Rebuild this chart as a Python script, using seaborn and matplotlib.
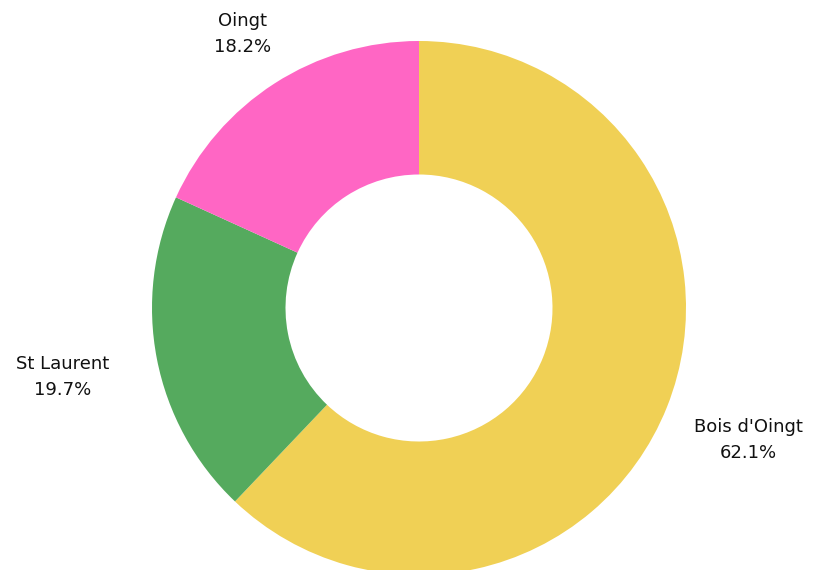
import numpy as np
import matplotlib
matplotlib.use("Agg")
import matplotlib.pyplot as plt
import seaborn as sns

# slice data (clockwise from 12 o'clock)
villages = ["Bois d'Oingt", "St Laurent", "Oingt"]
shares = [62.1, 19.7, 18.2]
colors = ["#F0D055", "#55AA5E", "#FF66C4"]
label_r = [1.33, 1.36, 1.22]

sns.set_theme(style="white")
plt.rcParams['font.family'] = ['DejaVu Sans']

fig = plt.figure(figsize=(8.34, 5.70), dpi=100)
# donut centre ~ (419, 308) px, radius ~267 px
ax = fig.add_axes([152 / 834, (570 - 575) / 570, 534 / 834, 534 / 570])

wedges, _ = ax.pie(shares, colors=colors, startangle=90, counterclock=False,
                   radius=1, wedgeprops=dict(width=0.5, edgecolor="white", linewidth=0))
ax.set_xlim(-1, 1)
ax.set_ylim(-1, 1)
ax.set_aspect("equal")
ax.axis("off")

for w, name, val, r in zip(wedges, villages, shares, label_r):
    ang = np.deg2rad((w.theta1 + w.theta2) / 2)
    ax.text(r * np.cos(ang), r * np.sin(ang), f"{name}\n{val}%",
            ha="center", va="center", fontsize=13, color="#111111",
            linespacing=1.55, clip_on=False)

fig.savefig("out.png", dpi=100)
